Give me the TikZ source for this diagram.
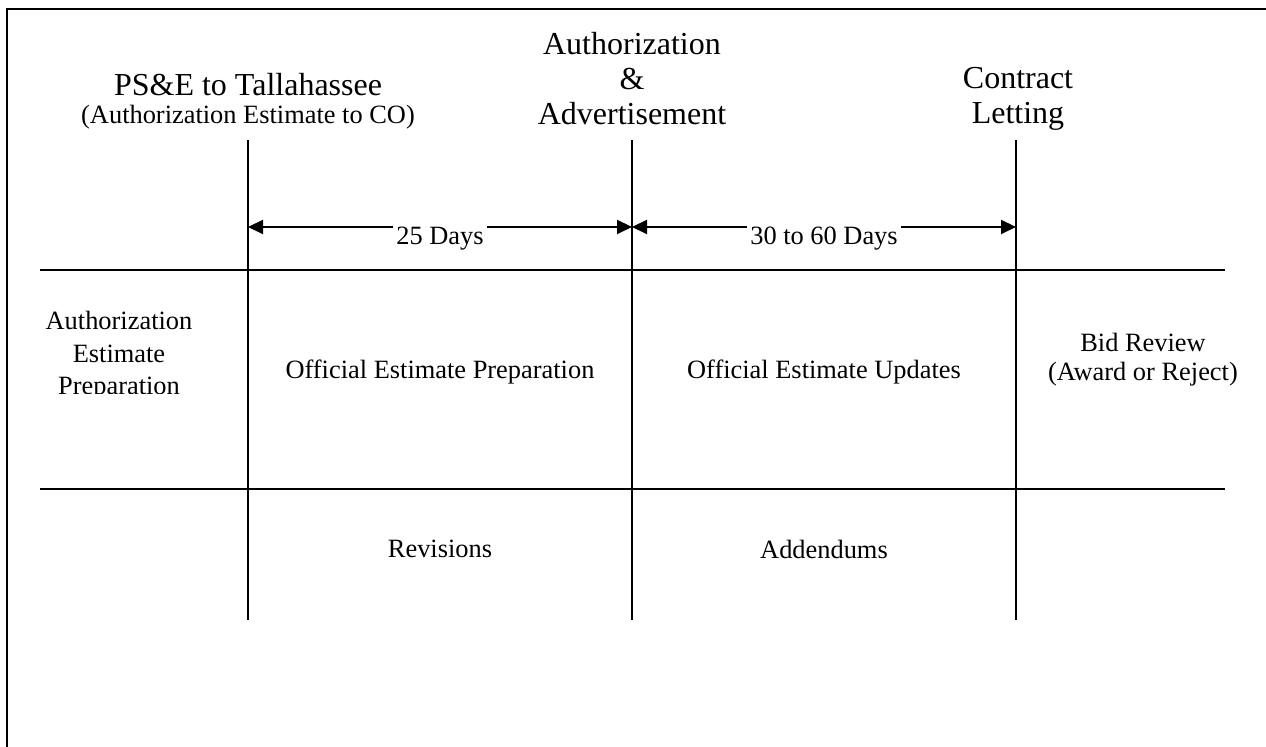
\documentclass[tikz,border=0pt]{standalone}
\usepackage{fontspec}
\setmainfont{Liberation Serif}
\usetikzlibrary{arrows.meta}
\begin{document}
\begin{tikzpicture}[x=0.5pt,y=-0.5pt,
  rule/.style={line width=1pt},
  frame/.style={line width=1.3pt},
  dim/.style={line width=1pt,{Triangle[length=7.5pt,width=7pt]}-{Triangle[length=7.5pt,width=7pt]}},
  head/.style={font=\fontsize{16}{17.5}\selectfont,align=center,inner sep=0pt},
  body/.style={font=\fontsize{13.2}{14.5}\selectfont,align=center,inner sep=0pt},
  lab/.style={font=\fontsize{13.2}{14.5}\selectfont,fill=white,inner sep=1.5pt}]
\useasboundingbox (0,0) rectangle (1266,747);
% frame
\coordinate (fbl) at (7,747);
\coordinate (ftl) at (7,9);
\coordinate (ftr) at (1266,9);
\draw[frame] (fbl) -- (ftl) -- (ftr);
% vertical milestone lines
\coordinate (v1t) at (248,140); \coordinate (v1b) at (248,620);
\coordinate (v2t) at (632,140); \coordinate (v2b) at (632,620);
\coordinate (v3t) at (1016,140); \coordinate (v3b) at (1016,620);
\draw[rule] (v1t) -- (v1b);
\draw[rule] (v2t) -- (v2b);
\draw[rule] (v3t) -- (v3b);
% horizontal rows
\coordinate (h1l) at (40,270); \coordinate (h1r) at (1225,270);
\coordinate (h2l) at (40,489); \coordinate (h2r) at (1225,489);
\draw[rule] (h1l) -- (h1r);
\draw[rule] (h2l) -- (h2r);
% durations
\coordinate (d1) at (248,227);
\coordinate (d2) at (632,227);
\coordinate (d3) at (1016,227);
\draw[dim] (d1) -- (d2);
\draw[dim] (d2) -- (d3);
\node[lab] (l25) at (440,239) {25 Days};
\node[lab] (l3060) at (824,239) {30 to 60 Days};
% headings
\node[head] (pse) at (248,85) {PS\&E to Tallahassee};
\node[body] (pses) at (248,117) {(Authorization Estimate to CO)};
\node[head] (auth) at (632,79) {Authorization\\\&\\Advertisement};
\node[head] (cl) at (1018,99) {Contract\\Letting};
% row 1
\begin{scope}
\clip (0,0) rectangle (1266,394);
\node[body,font=\fontsize{13.2}{16.3}\selectfont] (aep) at (119,356) {Authorization\\Estimate\\Preparation};
\end{scope}
\node[body] (oep) at (440,372) {Official Estimate Preparation};
\node[body] (oeu) at (824,372) {Official Estimate Updates};
\node[body] (bid) at (1143,360) {Bid Review\\(Award or Reject)};
% row 2
\node[body] (rev) at (440,549) {Revisions};
\node[body] (add) at (824,549) {Addendums};
\end{tikzpicture}
\end{document}
